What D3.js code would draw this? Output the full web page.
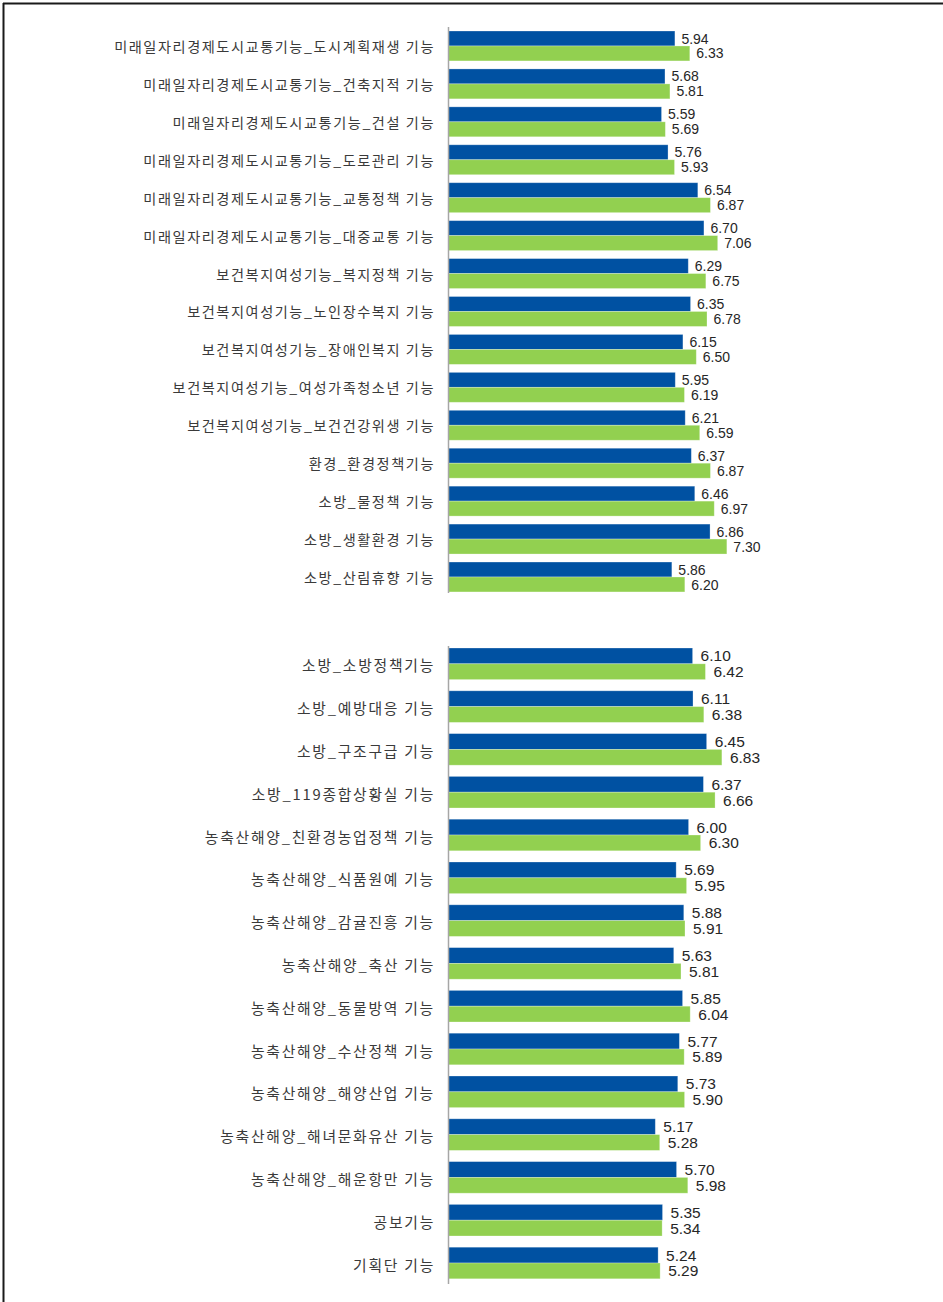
<!DOCTYPE html>
<html>
<head>
<meta charset="utf-8">
<script src="https://cdn.jsdelivr.net/npm/d3@7"></script>
<style>
  html, body { margin: 0; padding: 0; background: #ffffff; }
  svg { display: block; }
</style>
</head>
<body>
<svg id="chart" width="943" height="1302"></svg>
<script>
// Upper panel: 미래일자리경제도시교통 / 보건복지여성 / 환경 / 소방 functions
const topCategories = [
  "미래일자리경제도시교통기능_도시계획재생 기능",
  "미래일자리경제도시교통기능_건축지적 기능",
  "미래일자리경제도시교통기능_건설 기능",
  "미래일자리경제도시교통기능_도로관리 기능",
  "미래일자리경제도시교통기능_교통정책 기능",
  "미래일자리경제도시교통기능_대중교통 기능",
  "보건복지여성기능_복지정책 기능",
  "보건복지여성기능_노인장수복지 기능",
  "보건복지여성기능_장애인복지 기능",
  "보건복지여성기능_여성가족청소년 기능",
  "보건복지여성기능_보건건강위생 기능",
  "환경_환경정책기능",
  "소방_물정책 기능",
  "소방_생활환경 기능",
  "소방_산림휴향 기능"
];
const topSeriesA = [5.94, 5.68, 5.59, 5.76, 6.54, 6.70, 6.29, 6.35, 6.15, 5.95, 6.21, 6.37, 6.46, 6.86, 5.86];
const topSeriesB = [6.33, 5.81, 5.69, 5.93, 6.87, 7.06, 6.75, 6.78, 6.50, 6.19, 6.59, 6.87, 6.97, 7.30, 6.20];

// Lower panel: 소방 / 농축산해양 / 공보 / 기획단 functions
const bottomCategories = [
  "소방_소방정책기능",
  "소방_예방대응 기능",
  "소방_구조구급 기능",
  "소방_119종합상황실 기능",
  "농축산해양_친환경농업정책 기능",
  "농축산해양_식품원예 기능",
  "농축산해양_감귤진흥 기능",
  "농축산해양_축산 기능",
  "농축산해양_동물방역 기능",
  "농축산해양_수산정책 기능",
  "농축산해양_해양산업 기능",
  "농축산해양_해녀문화유산 기능",
  "농축산해양_해운항만 기능",
  "공보기능",
  "기획단 기능"
];
const bottomSeriesA = [6.10, 6.11, 6.45, 6.37, 6.00, 5.69, 5.88, 5.63, 5.85, 5.77, 5.73, 5.17, 5.70, 5.35, 5.24];
const bottomSeriesB = [6.42, 6.38, 6.83, 6.66, 6.30, 5.95, 5.91, 5.81, 6.04, 5.89, 5.90, 5.28, 5.98, 5.34, 5.29];

const seriesKeys = ["a", "b"];
const seriesColors = { a: "#0051a2", b: "#92d050" };

const svg = d3.select("#chart");

// Frame lines along the top and left edges
svg.append("line").attr("x1", 3).attr("x2", 943).attr("y1", 3.5).attr("y2", 3.5)
  .attr("stroke", "#1a1a1a").attr("stroke-width", 2);
svg.append("line").attr("x1", 3.5).attr("x2", 3.5).attr("y1", 3).attr("y2", 1302)
  .attr("stroke", "#1a1a1a").attr("stroke-width", 2);

function drawPanel(cfg) {
  const rows = cfg.categories.map((c, i) => ({ cat: c, a: cfg.a[i], b: cfg.b[i] }));

  const y = d3.scaleBand()
    .domain(cfg.categories)
    .range([cfg.y0, cfg.y0 + cfg.step * cfg.categories.length])
    .paddingInner(0).paddingOuter(0);

  const ySub = d3.scaleBand()
    .domain(seriesKeys)
    .range([cfg.inset, cfg.step - cfg.inset]);

  const x = d3.scaleLinear().domain([0, 8]).range([cfg.x0, cfg.x0 + 8 * cfg.pxPerUnit]);

  const g = svg.append("g");

  // Category axis on the left, tick labels only
  const axis = d3.axisLeft(y).tickSize(0).tickPadding(0);
  const axisG = g.append("g").attr("transform", `translate(${cfg.labelRight},${cfg.labelShift})`).call(axis);
  axisG.select(".domain").remove();
  axisG.selectAll("text")
    .attr("font-family", "'Noto Sans CJK KR', 'Noto Sans', sans-serif")
    .attr("font-size", cfg.labelSize)
    .attr("letter-spacing", cfg.labelSpacing)
    .attr("fill", "#3a3a3a")
    .attr("dy", "0.35em");

  const groups = g.selectAll(".grp").data(rows).join("g")
    .attr("transform", d => `translate(0,${y(d.cat)})`);

  groups.selectAll("rect").data(d => seriesKeys.map(k => ({ k, v: d[k] }))).join("rect")
    .attr("x", x(0))
    .attr("y", d => ySub(d.k))
    .attr("width", d => x(d.v) - x(0))
    .attr("height", ySub.bandwidth())
    .attr("fill", d => seriesColors[d.k])
    .attr("stroke", "rgba(255,255,255,0.35)")
    .attr("stroke-width", 0.8);

  groups.selectAll("text.val").data(d => seriesKeys.map(k => ({ k, v: d[k] }))).join("text")
    .attr("class", "val")
    .attr("x", d => x(d.v) + cfg.valueGap)
    .attr("y", d => ySub(d.k) + ySub.bandwidth() / 2)
    .attr("dy", "0.36em")
    .attr("font-family", "'Liberation Sans', Arial, sans-serif")
    .attr("font-size", cfg.valueSize)
    .attr("fill", "#262626")
    .text(d => d3.format(".2f")(d.v));

  // Vertical base line of the value axis
  g.append("line")
    .attr("x1", x(0) + 0.5).attr("x2", x(0) + 0.5)
    .attr("y1", cfg.axisTop).attr("y2", cfg.axisBottom)
    .attr("stroke", "#a6a6a6").attr("stroke-width", 1.5);
}

drawPanel({
  categories: topCategories, a: topSeriesA, b: topSeriesB,
  y0: 27, step: 37.93, inset: 4,
  x0: 448, pxPerUnit: 38.2,
  labelRight: 435, labelShift: 1, labelSize: 14.2, labelSpacing: 1.55,
  valueSize: 14, valueGap: 6.5,
  axisTop: 27, axisBottom: 593
});

drawPanel({
  categories: bottomCategories, a: bottomSeriesA, b: bottomSeriesB,
  y0: 642.4, step: 42.8, inset: 5.6,
  x0: 448, pxPerUnit: 40.1,
  labelRight: 435, labelShift: 2.5, labelSize: 14.8, labelSpacing: 1.75,
  valueSize: 15.5, valueGap: 8,
  axisTop: 646, axisBottom: 1284
});
</script>
</body>
</html>
